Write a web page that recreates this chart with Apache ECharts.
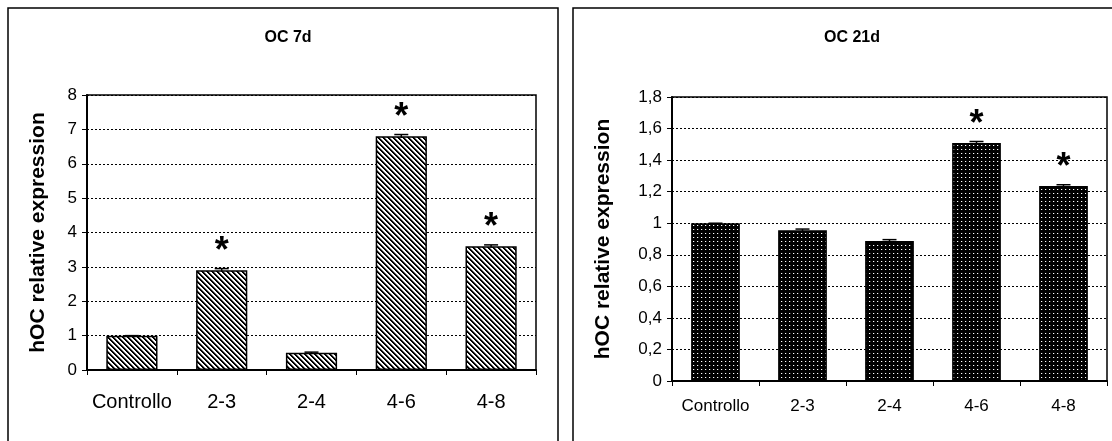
<!DOCTYPE html>
<html>
<head>
<meta charset="utf-8">
<script src="https://cdn.jsdelivr.net/npm/echarts@6/dist/echarts.min.js"></script>
<style>
  html, body { margin: 0; padding: 0; background: #fff; }
  #main { width: 1112px; height: 441px; }
</style>
</head>
<body>
<div id="main"></div>
<script>
// dati
var categories = ['Controllo', '2-3', '2-4', '4-6', '4-8'];
var oc7Values = [1.0, 2.9, 0.5, 6.8, 3.6];
var oc7Errors = [0.0, 0.05, 0.02, 0.05, 0.04];
var oc7Signif = [false, true, false, true, true];
var oc21Values = [1.0, 0.955, 0.888, 1.508, 1.236];
var oc21Errors = [0.0, 0.008, 0.008, 0.01, 0.008];
var oc21Signif = [false, false, false, true, true];
var oc7Ticks = [0, 8, 1];      // min, max, intervallo
var oc21Ticks = [0, 1.8, 0.2];

var FONT = 'Arial, "Liberation Sans", sans-serif';

// riempimento a righe diagonali (OC 7d)
function stripePattern() {
  var p = 5;
  var c = document.createElement('canvas');
  c.width = p; c.height = p;
  var ctx = c.getContext('2d');
  var img = ctx.createImageData(p, p);
  for (var y = 0; y < p; y++) {
    for (var x = 0; x < p; x++) {
      var d = ((x - y) % p + p) % p;
      var v = d < 2 ? 0 : (d == 2 ? 140 : 255);
      var k = (y * p + x) * 4;
      img.data[k] = v; img.data[k + 1] = v; img.data[k + 2] = v; img.data[k + 3] = 255;
    }
  }
  ctx.putImageData(img, 0, 0);
  return c;
}
// riempimento nero a puntini (OC 21d)
function dotPattern() {
  var c = document.createElement('canvas');
  c.width = 4; c.height = 4;
  var ctx = c.getContext('2d');
  ctx.fillStyle = '#000';
  ctx.fillRect(0, 0, 4, 4);
  ctx.fillStyle = '#3a3a3a';
  ctx.fillRect(1, 1, 2, 1);
  ctx.fillStyle = '#fff';
  ctx.fillRect(1, 1, 1, 1);
  return c;
}

function errorItem(params, api) {
  var i = api.value(0);
  var v = api.value(1), e = api.value(2);
  var top = api.coord([i, v + e]);
  var bot = api.coord([i, v - e]);
  var hw = 7;
  var st = { stroke: '#000', lineWidth: 1.5 };
  return {
    type: 'group',
    children: [
      { type: 'line', shape: { x1: top[0], y1: top[1], x2: bot[0], y2: bot[1] }, style: st },
      { type: 'line', shape: { x1: top[0] - hw, y1: top[1], x2: top[0] + hw, y2: top[1] }, style: st }
    ]
  };
}

function yFmt(v) {
  return String(Math.round(v * 10) / 10).replace('.', ',');
}

function yAxisOf(idx, ticks, gap) {
  return {
    type: 'value', gridIndex: idx,
    min: ticks[0], max: ticks[1], interval: ticks[2],
    name: 'hOC relative expression',
    nameLocation: 'middle', nameGap: gap, nameRotate: 90,
    nameTextStyle: { fontFamily: FONT, fontSize: 21, fontWeight: 'bold', color: '#000' },
    axisLine: { show: true, lineStyle: { color: '#000', width: 2 } },
    axisTick: { show: true, inside: false, length: 5, lineStyle: { color: '#000', width: 1 } },
    axisLabel: { formatter: yFmt, fontFamily: FONT, fontSize: 17, color: '#000', margin: 10 },
    splitLine: { show: true, lineStyle: { color: '#000', width: 1, type: [2, 2] } }
  };
}

function xAxisOf(idx, fontSize, margin) {
  return {
    type: 'category', gridIndex: idx, data: categories,
    axisLine: { show: true, lineStyle: { color: '#000', width: 2 } },
    axisTick: { show: true, length: 5, lineStyle: { color: '#000', width: 1 } },
    axisLabel: { interval: 0, fontFamily: FONT, fontSize: fontSize, color: '#000', margin: margin }
  };
}

function barSeries(idx, values, signif, pattern, width) {
  return {
    type: 'bar', xAxisIndex: idx, yAxisIndex: idx,
    data: values, barWidth: width,
    itemStyle: { color: { image: pattern, repeat: 'repeat' }, borderColor: '#000', borderWidth: 1.5 },
    label: {
      show: true, position: 'top', distance: 0,
      formatter: function (p) { return signif[p.dataIndex] ? '*' : ''; },
      fontFamily: FONT, fontSize: 36, fontWeight: 'bold', color: '#000'
    },
    z: 2
  };
}

function errSeries(idx, values, errors) {
  return {
    type: 'custom', xAxisIndex: idx, yAxisIndex: idx,
    renderItem: errorItem,
    encode: { x: 0, y: 1 },
    data: categories.map(function (c, i) { return [i, values[i], errors[i]]; }),
    z: 3
  };
}

var myChart = echarts.init(document.getElementById('main'), null, { renderer: 'canvas' });
var option = {
  backgroundColor: '#fff',
  animation: false,
  title: [
    { text: 'OC 7d', left: 283, top: 25, textAlign: 'center',
      textStyle: { fontFamily: FONT, fontSize: 16, fontWeight: 'bold', color: '#000' } },
    { text: 'OC 21d', left: 847, top: 25, textAlign: 'center',
      textStyle: { fontFamily: FONT, fontSize: 16, fontWeight: 'bold', color: '#000' } }
  ],
  grid: [
    { left: 87, top: 95, width: 449, height: 275, show: true, borderColor: '#000', borderWidth: 1.5, backgroundColor: '#fff' },
    { left: 672, top: 97, width: 435, height: 284, show: true, borderColor: '#000', borderWidth: 1.5, backgroundColor: '#fff' }
  ],
  xAxis: [xAxisOf(0, 20, 22), xAxisOf(1, 17, 17)],
  yAxis: [yAxisOf(0, oc7Ticks, 38), yAxisOf(1, oc21Ticks, 58)],
  series: [
    barSeries(0, oc7Values, oc7Signif, stripePattern(), '57%'),
    errSeries(0, oc7Values, oc7Errors),
    barSeries(1, oc21Values, oc21Signif, dotPattern(), '56%'),
    errSeries(1, oc21Values, oc21Errors)
  ],
  graphic: [
    // cornici dei due riquadri
    { type: 'rect', shape: { x: 8, y: 8, width: 550, height: 460 }, style: { fill: null, stroke: '#000', lineWidth: 1.5 }, z: -1 },
    { type: 'rect', shape: { x: 573, y: 8, width: 560, height: 460 }, style: { fill: null, stroke: '#000', lineWidth: 1.5 }, z: -1 }
  ]
};
myChart.setOption(option);
window.addEventListener('resize', myChart.resize);
</script>
</body>
</html>
